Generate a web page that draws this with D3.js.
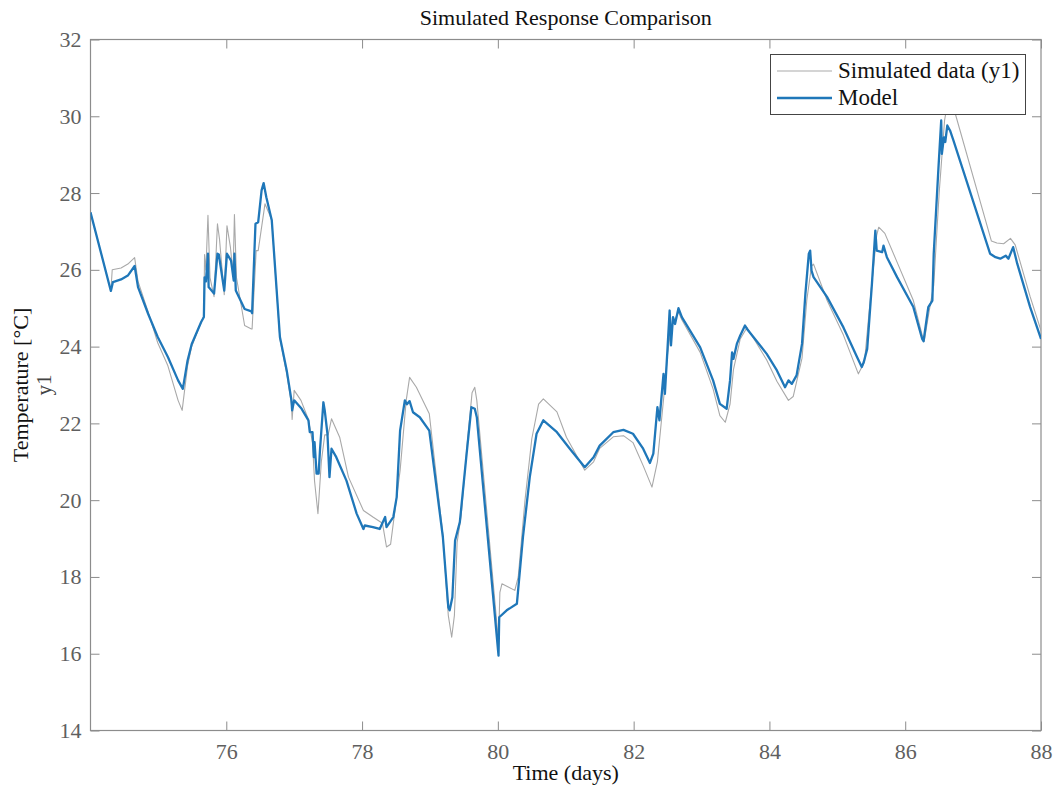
<!DOCTYPE html>
<html>
<head>
<meta charset="utf-8">
<script src="https://cdn.jsdelivr.net/npm/d3@7"></script>
<style>
  html, body { margin: 0; padding: 0; background: #fff; }
  svg { display: block; font-family: "Liberation Serif", "Times New Roman", serif; }
</style>
</head>
<body>
<svg id="chart" width="1057" height="787"></svg>
<script>
// Simulated measurement (y1)
const simDays = [74.00,74.30,74.32,74.45,74.55,74.65,74.70,74.85,74.99,75.14,75.29,75.35,75.43,75.49,75.63,75.67,75.68,75.70,75.73,75.76,75.82,75.87,75.90,75.97,76.01,76.06,76.10,76.12,76.15,76.27,76.37,76.38,76.44,76.47,76.57,76.67,76.79,76.89,76.96,76.97,77.00,77.10,77.21,77.27,77.30,77.35,77.40,77.45,77.50,77.55,77.67,77.80,78.02,78.16,78.30,78.36,78.42,78.56,78.65,78.70,78.80,78.99,79.19,79.27,79.32,79.36,79.40,79.46,79.55,79.62,79.66,79.69,80.01,80.03,80.06,80.25,80.30,80.40,80.50,80.60,80.67,80.87,81.01,81.28,81.41,81.50,81.70,81.85,81.99,82.14,82.27,82.35,82.45,82.50,82.55,82.66,82.71,82.98,83.17,83.27,83.35,83.42,83.47,83.57,83.67,83.96,84.11,84.28,84.35,84.48,84.55,84.62,84.65,84.85,85.09,85.31,85.40,85.50,85.58,85.61,85.70,85.88,86.12,86.25,86.28,86.35,86.42,86.50,86.58,86.62,86.70,87.27,87.35,87.45,87.55,87.62,87.84,88.00];
const simTemp = [27.50,25.45,26.00,26.05,26.15,26.32,25.70,24.90,24.10,23.50,22.60,22.34,23.50,24.00,24.64,24.80,26.40,26.00,27.42,25.80,25.30,27.20,26.80,25.35,27.15,26.60,25.90,27.44,25.80,24.55,24.46,24.46,26.50,26.50,27.72,27.30,24.20,23.30,22.50,22.10,22.86,22.60,22.10,21.50,20.50,19.65,21.00,21.70,21.70,22.12,21.64,20.60,19.73,19.56,19.40,18.78,18.85,20.77,22.60,23.20,22.94,22.25,19.10,17.00,16.43,17.00,18.90,19.60,21.50,22.80,22.94,22.60,16.30,17.60,17.82,17.65,18.00,20.00,21.60,22.50,22.64,22.30,21.64,20.78,21.00,21.35,21.65,21.68,21.50,20.90,20.34,21.00,22.80,23.80,24.50,24.90,24.70,23.85,22.90,22.20,22.03,22.50,23.40,24.20,24.50,23.65,23.10,22.60,22.70,23.70,25.20,26.10,26.15,25.20,24.30,23.29,23.60,25.50,26.90,27.11,26.95,26.20,25.20,24.30,24.14,24.90,25.60,28.00,29.90,30.30,30.30,26.75,26.70,26.68,26.82,26.65,25.30,24.42];

// Identified model response
const modelDays = [74.00,74.30,74.33,74.45,74.55,74.65,74.70,74.85,74.99,75.14,75.29,75.36,75.43,75.49,75.63,75.67,75.68,75.70,75.73,75.74,75.82,75.87,75.89,75.97,76.01,76.07,76.11,76.12,76.14,76.27,76.37,76.38,76.43,76.47,76.52,76.55,76.59,76.67,76.79,76.89,76.96,76.97,77.00,77.11,77.21,77.23,77.27,77.29,77.30,77.33,77.36,77.38,77.43,77.45,77.49,77.52,77.55,77.62,77.77,77.92,78.02,78.04,78.16,78.26,78.34,78.36,78.46,78.51,78.56,78.63,78.66,78.70,78.75,78.85,78.99,79.19,79.27,79.29,79.33,79.37,79.44,79.54,79.61,79.66,79.69,80.01,80.02,80.13,80.28,80.37,80.47,80.57,80.67,80.87,81.06,81.28,81.41,81.50,81.70,81.85,81.99,82.14,82.24,82.29,82.35,82.38,82.44,82.46,82.50,82.53,82.55,82.58,82.61,82.66,82.71,82.98,83.17,83.27,83.37,83.42,83.45,83.47,83.52,83.57,83.64,83.67,83.96,84.11,84.23,84.28,84.33,84.40,84.48,84.53,84.58,84.60,84.62,84.65,84.85,85.09,85.29,85.36,85.39,85.44,85.51,85.56,85.58,85.66,85.68,85.73,85.88,86.12,86.25,86.27,86.34,86.37,86.40,86.42,86.49,86.53,86.54,86.57,86.59,86.62,86.66,86.71,87.25,87.33,87.40,87.48,87.52,87.59,87.65,87.84,88.00];
const modelTemp = [27.50,25.45,25.68,25.75,25.85,26.10,25.55,24.85,24.25,23.73,23.12,22.90,23.64,24.06,24.64,24.77,25.80,25.70,26.42,25.55,25.38,26.42,26.40,25.46,26.42,26.24,25.72,26.42,25.46,24.98,24.92,24.87,27.20,27.24,28.07,28.26,27.89,27.29,24.25,23.38,22.60,22.34,22.60,22.38,22.08,21.77,21.77,21.12,21.51,20.69,20.69,21.30,22.55,22.34,21.73,20.60,21.34,21.12,20.51,19.65,19.25,19.34,19.30,19.25,19.56,19.30,19.56,20.08,21.81,22.60,22.50,22.58,22.29,22.16,21.81,19.04,17.21,17.13,17.47,18.95,19.43,21.21,22.42,22.38,22.16,15.95,16.95,17.13,17.30,19.04,20.60,21.73,22.08,21.77,21.34,20.86,21.12,21.42,21.77,21.83,21.73,21.34,20.97,21.21,22.42,22.08,23.29,22.77,23.98,24.94,24.03,24.77,24.59,25.00,24.77,23.98,23.12,22.51,22.38,23.12,23.85,23.68,24.07,24.29,24.55,24.46,23.81,23.38,22.94,23.12,23.03,23.25,24.07,25.38,26.42,26.50,25.98,25.81,25.29,24.50,23.73,23.47,23.60,23.94,25.64,27.02,26.50,26.46,26.63,26.33,25.81,25.03,24.20,24.14,25.03,25.11,25.20,26.42,28.67,29.89,29.02,29.45,29.33,29.76,29.63,29.37,26.42,26.33,26.29,26.37,26.29,26.59,26.16,25.03,24.20];

const xTicks = [76, 78, 80, 82, 84, 86, 88];
const yTicks = [14, 16, 18, 20, 22, 24, 26, 28, 30, 32];
const seriesNames = ["Simulated data (y1)", "Model"];

const svg = d3.select("#chart");
const margin = { left: 90.5, right: 1041, top: 39.5, bottom: 730.5 };

const x = d3.scaleLinear().domain([74, 88]).range([margin.left, margin.right]);
const y = d3.scaleLinear().domain([14, 32]).range([margin.bottom, margin.top]);

const axisColor = "#8c8c8c";
const labelColor = "#5f5f5f";
const tickLen = 9;

// Plot area clip so lines stay inside the box
svg.append("defs").append("clipPath").attr("id", "plotClip")
  .append("rect")
  .attr("x", margin.left).attr("y", margin.top)
  .attr("width", margin.right - margin.left)
  .attr("height", margin.bottom - margin.top);

function styleAxis(g) {
  g.select(".domain").remove();
  g.selectAll(".tick line").attr("stroke", axisColor).attr("stroke-width", 1);
  g.selectAll(".tick text")
    .attr("fill", labelColor)
    .style("font-family", "'Liberation Serif', 'Times New Roman', serif")
    .style("font-size", "22px");
}

// Bottom axis (ticks inside)
svg.append("g")
  .attr("transform", `translate(0,${margin.bottom})`)
  .call(d3.axisBottom(x).tickValues(xTicks).tickSizeInner(-tickLen).tickSizeOuter(0).tickPadding(13))
  .call(styleAxis);

// Top axis mirror ticks
svg.append("g")
  .attr("transform", `translate(0,${margin.top})`)
  .call(d3.axisTop(x).tickValues(xTicks).tickSizeInner(-tickLen).tickSizeOuter(0).tickFormat(""))
  .call(styleAxis);

// Left axis
svg.append("g")
  .attr("transform", `translate(${margin.left},0)`)
  .call(d3.axisLeft(y).tickValues(yTicks).tickSizeInner(-tickLen).tickSizeOuter(0).tickPadding(9))
  .call(styleAxis);

// Right axis mirror ticks
svg.append("g")
  .attr("transform", `translate(${margin.right},0)`)
  .call(d3.axisRight(y).tickValues(yTicks).tickSizeInner(-tickLen).tickSizeOuter(0).tickFormat(""))
  .call(styleAxis);

// Box outline
svg.append("rect")
  .attr("x", margin.left).attr("y", margin.top)
  .attr("width", margin.right - margin.left)
  .attr("height", margin.bottom - margin.top)
  .attr("fill", "none")
  .attr("stroke", axisColor)
  .attr("stroke-width", 1.2);

const line = d3.line().x(d => x(d[0])).y(d => y(d[1]));
const simData = simDays.map((d, i) => [d, simTemp[i]]);
const modelData = modelDays.map((d, i) => [d, modelTemp[i]]);

const plot = svg.append("g").attr("clip-path", "url(#plotClip)");
plot.append("path").datum(simData)
  .attr("d", line)
  .attr("fill", "none")
  .attr("stroke", "#a9a9a9")
  .attr("stroke-width", 1.1)
  .attr("stroke-linejoin", "round");
plot.append("path").datum(modelData)
  .attr("d", line)
  .attr("fill", "none")
  .attr("stroke", "#1f77b9")
  .attr("stroke-width", 2.3)
  .attr("stroke-linejoin", "round");

// Title and axis labels
svg.append("text")
  .attr("x", (margin.left + margin.right) / 2).attr("y", 25)
  .attr("text-anchor", "middle")
  .attr("fill", "#111")
  .style("font-size", "22px")
  .text("Simulated Response Comparison");

svg.append("text")
  .attr("x", (margin.left + margin.right) / 2).attr("y", 780)
  .attr("text-anchor", "middle")
  .attr("fill", "#111")
  .style("font-size", "22px")
  .text("Time (days)");

svg.append("text")
  .attr("transform", `translate(28,${(margin.top + margin.bottom) / 2}) rotate(-90)`)
  .attr("text-anchor", "middle")
  .attr("fill", "#111")
  .style("font-size", "22px")
  .text("Temperature [°C]");

svg.append("text")
  .attr("transform", `translate(51,${(margin.top + margin.bottom) / 2}) rotate(-90)`)
  .attr("text-anchor", "middle")
  .attr("fill", "#444")
  .style("font-size", "21px")
  .text("y1");

// Legend
const legend = svg.append("g");
legend.append("rect")
  .attr("x", 770.5).attr("y", 54.5)
  .attr("width", 255).attr("height", 60)
  .attr("fill", "#fff")
  .attr("stroke", "#444")
  .attr("stroke-width", 1);

const legendItems = [
  { name: seriesNames[0], color: "#a9a9a9", width: 1.1, yPos: 71 },
  { name: seriesNames[1], color: "#1f77b9", width: 2.3, yPos: 98 }
];
legendItems.forEach(item => {
  legend.append("line")
    .attr("x1", 777).attr("x2", 832)
    .attr("y1", item.yPos).attr("y2", item.yPos)
    .attr("stroke", item.color)
    .attr("stroke-width", item.width);
  legend.append("text")
    .attr("x", 838).attr("y", item.yPos + 7)
    .attr("fill", "#111")
    .style("font-size", "23px")
    .text(item.name);
});
</script>
</body>
</html>
